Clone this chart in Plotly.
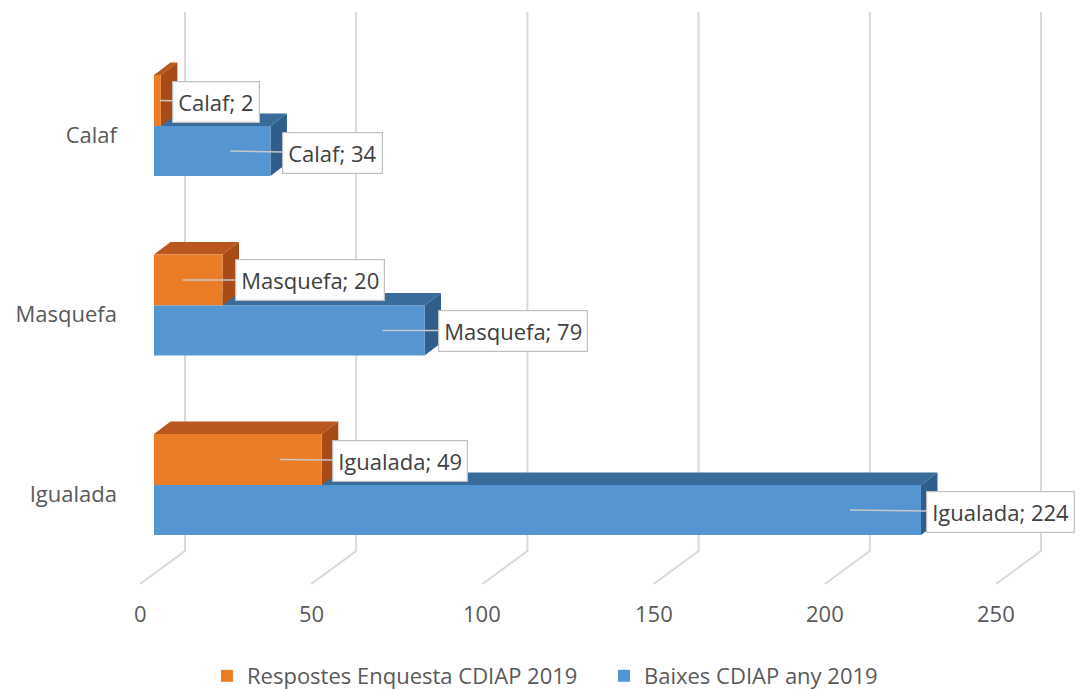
import plotly.graph_objects as go

# ---------------- data ----------------
categories = ["Igualada", "Masquefa", "Calaf"]
respostes = [49, 20, 2]          # Respostes Enquesta CDIAP 2019
baixes = [224, 79, 34]           # Baixes CDIAP any 2019
series_names = ["Respostes Enquesta CDIAP 2019", "Baixes CDIAP any 2019"]
x_ticks = [0, 50, 100, 150, 200, 250]

# ---------------- geometry (pixel based, converted to data units) ----------------
W, H_REF = 1075, 689
H = 697                       # rendered height (capture is rescaled to 689)
SY = H / H_REF

def py(p):
    return p * SY

ML = 130                      # left margin (px)
X0_PX = 154.0                 # pixel of value 0 on bar front face
PX_PER_UNIT = 3.424
Y0_PX = py(494.0)             # pixel of first category centre
PX_PER_CAT = py(179.5)

def dxu(px):
    return px / PX_PER_UNIT

def dyu(px):
    return -py(px) / PX_PER_CAT

def yat(px):
    return (Y0_PX - py(px)) / PX_PER_CAT

x_range = [(ML - X0_PX) / PX_PER_UNIT, (W - X0_PX) / PX_PER_UNIT]
y_range = [(Y0_PX - H) / PX_PER_CAT, Y0_PX / PX_PER_CAT]

ypos = list(range(len(categories)))

# bar placement in category units
or_off, or_w = -dyu(9), -dyu(51)
bl_off, bl_w = dyu(41), -dyu(50)
BAR_DX, BAR_DY = dxu(16.5), -dyu(12.5)

C_OR = "#EC7D27"; C_OR_TOP = "#BA571E"; C_OR_SIDE = "#A94B16"
C_BL = "#5596D2"; C_BL_TOP = "#3A6C9B"; C_BL_SIDE = "#2F5E8C"
GRID = "#D9D9D9"

fig = go.Figure()

fig.add_trace(go.Bar(
    y=ypos, x=respostes, orientation="h", base=0, width=or_w, offset=or_off,
    marker=dict(color=C_OR, line=dict(width=0)), name=series_names[0],
    hoverinfo="x+name"))
fig.add_trace(go.Bar(
    y=ypos, x=baixes, orientation="h", base=0, width=bl_w, offset=bl_off,
    marker=dict(color=C_BL, line=dict(width=0)), name=series_names[1],
    hoverinfo="x+name"))

shapes = []

# back wall gridlines + floor lines
WALL_DX = dxu(31)
wall_top = yat(12)
wall_bot = yat(551)
FLOOR_DX, FLOOR_DY = dxu(-45), dyu(33)
for t in x_ticks:
    xb = t + WALL_DX
    shapes.append(dict(type="path", layer="below", xref="x", yref="y",
                       path=f"M{xb},{wall_top} L{xb},{wall_bot} L{xb + FLOOR_DX},{wall_bot + FLOOR_DY}",
                       line=dict(color=GRID, width=2)))

def poly(pts):
    return "M" + " L".join(f"{x},{y}" for x, y in pts) + " Z"

# 3D faces: blue first, then orange
for i, (vo, vb) in enumerate(zip(respostes, baixes)):
    yt = i + bl_off + bl_w
    yb = i + bl_off
    # blue top face (part not hidden by orange front)
    if vo >= BAR_DX:
        pts = [(vo, yt), (vb, yt), (vb + BAR_DX, yt + BAR_DY), (vo, yt + BAR_DY)]
    else:
        pts = [(vo, yt), (vb, yt), (vb + BAR_DX, yt + BAR_DY), (BAR_DX, yt + BAR_DY),
               (vo, yt + BAR_DY * vo / BAR_DX)]
    shapes.append(dict(type="path", layer="below", xref="x", yref="y", path=poly(pts),
                       fillcolor=C_BL_TOP, line=dict(width=0)))
    shapes.append(dict(type="path", layer="below", xref="x", yref="y",
                       path=poly([(vb, yb), (vb, yt), (vb + BAR_DX, yt + BAR_DY), (vb + BAR_DX, yb + BAR_DY)]),
                       fillcolor=C_BL_SIDE, line=dict(width=0)))
for i, vo in enumerate(respostes):
    yt = i + or_off + or_w
    yb = i + or_off
    shapes.append(dict(type="path", layer="below", xref="x", yref="y",
                       path=poly([(0, yt), (vo, yt), (vo + BAR_DX, yt + BAR_DY), (BAR_DX, yt + BAR_DY)]),
                       fillcolor=C_OR_TOP, line=dict(width=0)))
    shapes.append(dict(type="path", layer="below", xref="x", yref="y",
                       path=poly([(vo, yb), (vo, yt), (vo + BAR_DX, yt + BAR_DY), (vo + BAR_DX, yb + BAR_DY)]),
                       fillcolor=C_OR_SIDE, line=dict(width=0)))

# ---------------- data labels (callouts) ----------------
FONT = "Open Sans"
FS = 22
annotations = []
# per-label style: tip shift from bar end (px), box offset from tip (px)
or_tip_shift = [-42, -40, -1]
or_box = [(120, 1), (128, 0), (56, 1)]
bl_tip_shift = [-71, -42, -40]
bl_box = [(151, 2), (130, 0), (102, 2)]
for i, (vo, vb) in enumerate(zip(respostes, baixes)):
    for v, yc, ts, (bx, by) in [(vo, i + or_off + or_w / 2, or_tip_shift[i], or_box[i]),
                                 (vb, i + bl_off + bl_w / 2, bl_tip_shift[i], bl_box[i])]:
        annotations.append(dict(
            x=v, y=yc, xref="x", yref="y", xshift=ts,
            text=f"{categories[i]}; {v}", showarrow=True, arrowhead=0,
            arrowcolor="#C8C8C8", arrowwidth=1.5, ax=bx, ay=py(by), standoff=0,
            font=dict(family=FONT, size=FS, color="#404040"),
            bgcolor="white", bordercolor="#BFBFBF", borderwidth=1.2, borderpad=5))

# x tick labels at the floor front edge
label_y = yat(613)
for t in x_ticks:
    annotations.append(dict(x=t + WALL_DX + FLOOR_DX, y=label_y, xref="x", yref="y",
                            text=str(t), showarrow=False,
                            font=dict(family=FONT, size=FS, color="#595959")))

LEG_LEFT_PX = 207
fig.update_layout(
    width=W, height=H,
    margin=dict(l=ML, r=0, t=0, b=0),
    paper_bgcolor="white", plot_bgcolor="white",
    barmode="overlay",
    showlegend=True,
    legend=dict(orientation="h", x=(LEG_LEFT_PX - ML) / (W - ML), xanchor="left",
                y=1 - py(676) / H, yanchor="middle",
                font=dict(family=FONT, size=FS, color="#595959"),
                entrywidth=352, traceorder="normal", borderwidth=0),
    xaxis=dict(range=x_range, showgrid=False, zeroline=False, showticklabels=False,
               showline=False, fixedrange=True),
    yaxis=dict(range=y_range, showgrid=False, zeroline=False, tickmode="array",
               tickvals=ypos, ticktext=categories, ticks="", ticklabelstandoff=12,
               tickfont=dict(family=FONT, size=FS, color="#595959"),
               showline=False, fixedrange=True),
    shapes=shapes, annotations=annotations,
)

css_fix = (
    "document.documentElement.style.margin='0px';"
    "document.documentElement.style.overflow='hidden';"
    "document.body.style.margin='0px';"
    "document.body.style.padding='0px';"
    "document.body.style.overflow='hidden';"
)
fig.write_html("out.html", config={"displayModeBar": False}, post_script=css_fix)
